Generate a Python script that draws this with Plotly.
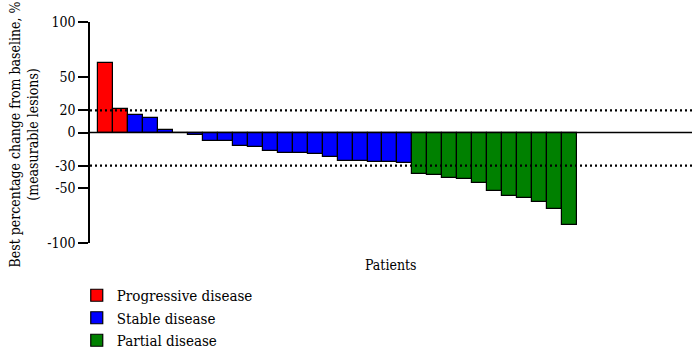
import plotly.graph_objects as go

progressive = [63, 21]
stable = [15.5, 13.3, 2.4, -0.8, -2, -7.3, -7.3, -11.8, -13.3, -16.4, -18.5, -18.5,
          -19.4, -22.4, -25.5, -26, -26.4, -27, -27.8]
partial = [-37.6, -38.5, -41.2, -42, -46, -52.7, -57.3, -59.4, -63.3, -69.4, -83.6]

tick_vals = [100, 50, 20, 0, -30, -50, -100]
tick_text = ["100", "50", "20", "0", "-30", "-50", "-100"]
ref_lines = [20, -30]

groups = [("Progressive disease", progressive, "#ff0000"),
          ("Stable disease", stable, "#0000ff"),
          ("Partial disease", partial, "#008000")]

FONT = "DejaVu Serif Condensed"

fig = go.Figure()
start = 0
for name, vals, color in groups:
    xs = list(range(start, start + len(vals)))
    start += len(vals)
    fig.add_trace(go.Bar(x=xs, y=vals, name=name, width=1,
                         marker=dict(color=color, line=dict(color="black", width=1.2))))

fig.add_shape(type="line", xref="paper", x0=0, x1=1, y0=0, y1=0,
              line=dict(color="black", width=1.3))
for v in ref_lines:
    fig.add_shape(type="line", xref="paper", x0=0, x1=1, y0=v, y1=v,
                  line=dict(color="black", width=2.2, dash="2px,3px"))

fig.add_annotation(text="Best percentage change from baseline, %<br>(measurable lesions)",
                   xref="paper", yref="paper", x=-0.11, y=0.49, textangle=-90,
                   showarrow=False, xanchor="center", yanchor="middle",
                   font=dict(family=FONT, size=14, color="black"))
fig.add_annotation(text="Patients", xref="paper", yref="paper", x=0.5, y=-0.1,
                   showarrow=False, xanchor="center", yanchor="middle",
                   font=dict(family=FONT, size=14, color="black"))

fig.update_layout(
    width=692, height=349,
    margin=dict(l=90, r=0, t=22, b=106, autoexpand=False),
    plot_bgcolor="white", paper_bgcolor="white",
    barmode="overlay", bargap=0,
    font=dict(family=FONT, size=14, color="black"),
    xaxis=dict(range=[-1.04, 39.18], showticklabels=False, showgrid=False,
               zeroline=False, showline=False, ticks=""),
    yaxis=dict(range=[-100, 100], tickvals=tick_vals, ticktext=tick_text,
               showgrid=False, zeroline=False, showline=True, linecolor="black",
               linewidth=1.5, ticks="outside", ticklen=10, tickwidth=1.5,
               tickcolor="black", tickfont=dict(family=FONT, size=14)),
    legend=dict(x=-0.022, y=-0.163, xanchor="left", yanchor="top",
                font=dict(family=FONT, size=15), tracegroupgap=0,
                bgcolor="rgba(0,0,0,0)"),
    showlegend=True,
)

fig.write_html("out.html")
